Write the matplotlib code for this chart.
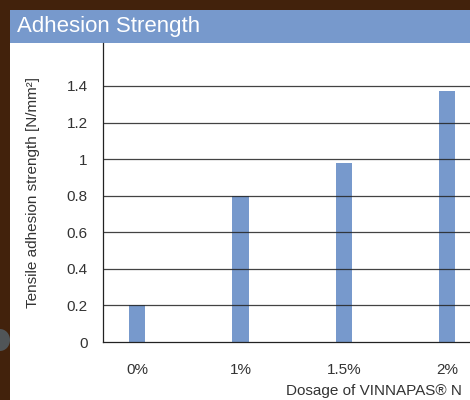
import matplotlib.pyplot as plt
import matplotlib.patches as mpatches

# data
dosages = ["0%", "1%", "1.5%", "2%"]
strength = [0.2, 0.8, 0.98, 1.37]
y_ticks = [0, 0.2, 0.4, 0.6, 0.8, 1.0, 1.2, 1.4]
y_tick_labels = ["0", "0.2", "0.4", "0.6", "0.8", "1", "1.2", "1.4"]

brown = "#42220c"
blue = "#7799cc"
text_col = "#333333"

plt.rcParams["font.family"] = ["Liberation Sans", "DejaVu Sans"]

fig = plt.figure(figsize=(4.7, 4.0), dpi=100, facecolor=brown)

# little grey blob on the left border (behind the white panel)
fig.patches.append(mpatches.Ellipse((0, 1 - 340 / 400), 20 / 470, 22 / 400, transform=fig.transFigure,
                                    facecolor="#505558", edgecolor="none", zorder=-3))
# white panel and blue header band
fig.patches.append(mpatches.Rectangle((10 / 470, 0), 1, 1 - 43 / 400, transform=fig.transFigure,
                                      facecolor="white", edgecolor="none", zorder=-2))
fig.patches.append(mpatches.Rectangle((10 / 470, 1 - 43 / 400), 1, 33 / 400, transform=fig.transFigure,
                                      facecolor=blue, edgecolor="none", zorder=-2))
fig.text(17 / 470, 1 - 26.5 / 400, "Adhesion Strength", color="white", fontsize=16,
         ha="left", va="center")

ax = fig.add_axes([103 / 470, 1 - 342 / 400, 1 - 103 / 470, (342 - 43) / 400])
ax.set_zorder(1)
ax.set_facecolor("none")
x = list(range(len(dosages)))
ax.bar(x, strength, width=0.155, color=blue, zorder=1)

ax.set_ylim(0, 1.635)
ax.set_xlim(-0.33, 3.22)
ax.set_yticks(y_ticks)
ax.set_yticklabels(y_tick_labels)
ax.set_xticks(x)
ax.set_xticklabels(dosages)
ax.tick_params(axis="both", length=0, labelsize=11, labelcolor=text_col)
ax.tick_params(axis="y", pad=11)
ax.tick_params(axis="x", pad=15)

# horizontal grid drawn over the bars
for yv in y_ticks[1:]:
    ax.axhline(yv, color="#222222", lw=0.9, alpha=0.85, zorder=2)

for side in ["top", "right"]:
    ax.spines[side].set_visible(False)
ax.spines["left"].set_color("#222222")
ax.spines["bottom"].set_color("#222222")
ax.spines["left"].set_linewidth(0.9)
ax.spines["bottom"].set_linewidth(0.9)

fig.text(33 / 470, 1 - 193 / 400, "Tensile adhesion strength [N/mm²]", rotation=90,
         fontsize=11, color=text_col, ha="center", va="center")
fig.text(462 / 470, 1 - 391 / 400, "Dosage of VINNAPAS® N", fontsize=11, color=text_col,
         ha="right", va="center")

fig.savefig("out.png", dpi=100, facecolor=brown)
